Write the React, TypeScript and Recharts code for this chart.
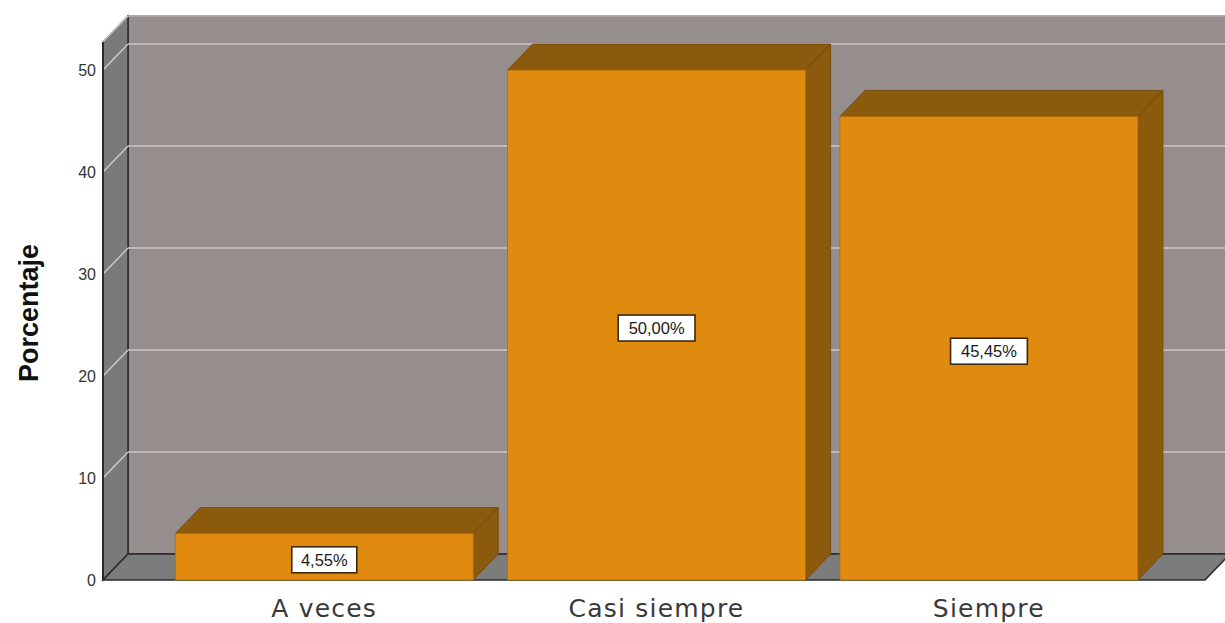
import React from 'react';
import { BarChart, Bar, XAxis, YAxis, CartesianGrid, LabelList } from 'recharts';

const categories = ['A veces', 'Casi siempre', 'Siempre'];
const percentages = [4.55, 50.0, 45.45];
const yTicks = [0, 10, 20, 30, 40, 50];
const yMax = 52.75;
const yAxisTitle = 'Porcentaje';

const data = categories.map((c, i) => ({ name: c, value: percentages[i] }));

const DX = 25;
const DY = 26;
const BACK = '#958e8c';
const SIDE_WALL = '#7a7a7a';
const FLOOR = '#7c7c7c';
const EDGE = '#2a2a2a';
const GRID = '#cdc8c6';
const BAR_FRONT = '#e08b10';
const BAR_DARK = '#8c5a0c';

const GridLine = (props: any) => {
  const { x1, x2, y1, index } = props;
  const top = props.y;
  const bottom = props.y + props.height;
  const X = x1;
  const R = x2;
  const parts: any[] = [];
  if (index === 0) {
    parts.push(
      <g key="walls">
        <rect x={X + DX} y={top - DY} width={R - X} height={bottom - top} fill={BACK} stroke={EDGE} strokeWidth={1.5} />
        <polygon
          points={`${X},${top} ${X + DX},${top - DY} ${X + DX},${bottom - DY} ${X},${bottom}`}
          fill={SIDE_WALL}
          stroke={EDGE}
          strokeWidth={1.5}
        />
        <polygon
          points={`${X},${bottom} ${X + DX},${bottom - DY} ${R + DX},${bottom - DY} ${R},${bottom}`}
          fill={FLOOR}
          stroke={EDGE}
          strokeWidth={1.5}
        />
      </g>
    );
  }
  if (Math.abs(y1 - bottom) > 1) {
    parts.push(
      <g key="gl">
        <line x1={X + DX} y1={y1 - DY} x2={R + DX} y2={y1 - DY} stroke={GRID} strokeWidth={1.5} />
        <line x1={X} y1={y1} x2={X + DX} y2={y1 - DY} stroke={GRID} strokeWidth={1.5} />
      </g>
    );
  }
  return <g key={props.key}>{parts}</g>;
};

const Bar3D = (props: any) => {
  const { x, y, width, height } = props;
  if (width == null || height == null) return null;
  return (
    <g>
      <polygon
        points={`${x},${y} ${x + DX},${y - DY} ${x + width + DX},${y - DY} ${x + width},${y}`}
        fill={BAR_DARK}
        stroke="#6e4608"
        strokeWidth={0.8}
      />
      <polygon
        points={`${x + width},${y} ${x + width + DX},${y - DY} ${x + width + DX},${y + height - DY} ${x + width},${y + height}`}
        fill={BAR_DARK}
        stroke="#6e4608"
        strokeWidth={0.8}
      />
      <rect x={x} y={y} width={width} height={height} fill={BAR_FRONT} stroke="#b06e0c" strokeWidth={0.8} />
    </g>
  );
};

const ValueLabel = (props: any) => {
  const { x, y, width, height, value } = props;
  const text = Number(value).toFixed(2).replace('.', ',') + '%';
  const w = text.length * 11.8 + 6;
  const h = 26;
  const cx = x + width / 2;
  const cy = y + height / 2 + 3;
  return (
    <g>
      <rect x={cx - w / 2} y={cy - h / 2} width={w} height={h} fill="#ffffff" stroke="#3a2a10" strokeWidth={1.6} />
      <text x={cx} y={cy + 6} textAnchor="middle" fontSize={16.5} fontFamily="Liberation Sans, Arial, sans-serif" fill="#1a1a1a">
        {text}
      </text>
    </g>
  );
};

const YTitle = (props: any) => {
  const vb = props.viewBox || {};
  const cx = 29;
  const cy = vb.y + vb.height / 2 + 2;
  return (
    <text
      x={cx}
      y={cy}
      transform={`rotate(-90, ${cx}, ${cy})`}
      textAnchor="middle"
      dominantBaseline="central"
      fontSize={27}
      fontWeight="bold"
      fontFamily="Liberation Sans, Arial, sans-serif"
      fill="#111"
    >
      {yAxisTitle}
    </text>
  );
};

export default function App() {
  return (
    <div style={{ position: 'absolute', left: 0, top: 0, width: 1225, height: 623, background: '#fff' }}>
      <BarChart
        width={1225}
        height={623}
        data={data}
        margin={{ top: 42, right: 20, bottom: 0, left: 43 }}
        barCategoryGap="5.2%"
      >
        <CartesianGrid vertical={false} horizontal={GridLine} />
        <XAxis
          dataKey="name"
          axisLine={false}
          tickLine={false}
          height={43}
          tickMargin={13}
          padding={{ left: 55, right: 50 }}
          tick={{ fontSize: 25, fill: '#3a3a3a', fontFamily: 'DejaVu Sans, sans-serif', letterSpacing: 1.2 }}
          interval={0}
        />
        <YAxis
          type="number"
          domain={[0, yMax]}
          ticks={yTicks}
          width={60}
          axisLine={{ stroke: EDGE, strokeWidth: 2 }}
          tickLine={false}
          tickMargin={1}
          tick={{ fontSize: 16, fill: '#333', fontFamily: 'Liberation Sans, Arial, sans-serif' }}
          label={<YTitle />}
        />
        <Bar dataKey="value" isAnimationActive={false} shape={<Bar3D />}>
          <LabelList dataKey="value" content={<ValueLabel />} />
        </Bar>
      </BarChart>
    </div>
  );
}
